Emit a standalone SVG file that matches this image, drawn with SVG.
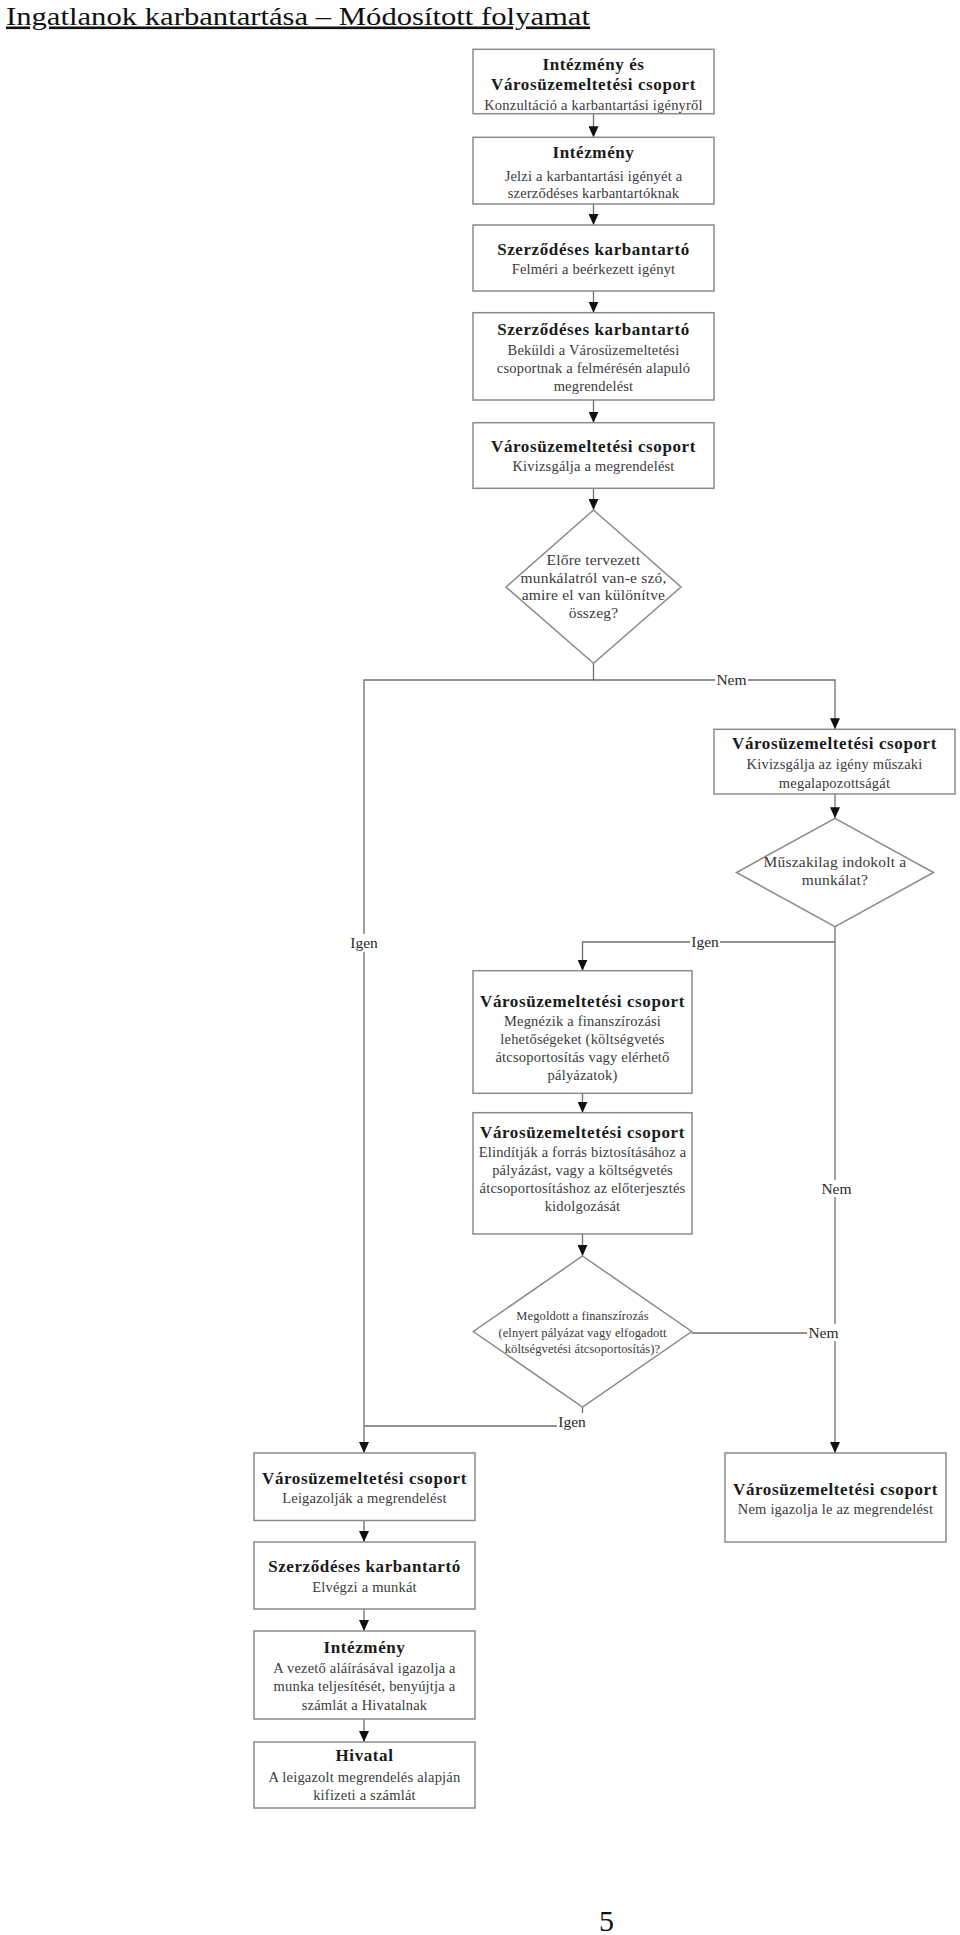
<svg xmlns="http://www.w3.org/2000/svg" width="960" height="1935" viewBox="0 0 960 1935">
<style>
.box{fill:#fff;stroke:#8a8a8a;stroke-width:1.5}
.h{font-family:"Liberation Serif",serif;font-weight:bold;font-size:17px;letter-spacing:0.6px;fill:#1a1a1a;text-anchor:middle}
.s{font-family:"Liberation Serif",serif;font-size:14.5px;letter-spacing:0.2px;fill:#3a3a3a;text-anchor:middle}
.d{font-family:"Liberation Serif",serif;font-size:15.5px;letter-spacing:0.2px;fill:#3a3a3a;text-anchor:middle}
.d3{font-family:"Liberation Serif",serif;font-size:12.5px;letter-spacing:0.1px;fill:#3a3a3a;text-anchor:middle}
.lbl{font-family:"Liberation Serif",serif;font-size:15.5px;fill:#2a2a2a;text-anchor:middle}
.bg{fill:#fff}
.conn{fill:none;stroke:#6e6e6e;stroke-width:1.3}
.arr{marker-end:url(#ah)}
</style>
<defs>
<marker id="ah" markerUnits="userSpaceOnUse" markerWidth="10" markerHeight="11" refX="5" refY="11" orient="0" viewBox="0 0 10 11">
<path d="M0,0 L10,0 L5,11 z" fill="#111"/>
</marker>
</defs>
<rect width="960" height="1935" fill="#fff"/>
<text x="6" y="24.5" font-family="Liberation Serif, serif" font-size="26" fill="#111" text-decoration="underline" textLength="584" lengthAdjust="spacingAndGlyphs">Ingatlanok karbantartása – Módosított folyamat</text>

<g id="connectors">
<path class="conn arr" d="M593.5,114 V137.3"/>
<path class="conn arr" d="M593.5,204 V225"/>
<path class="conn arr" d="M593.5,291 V312.7"/>
<path class="conn arr" d="M593.5,400 V422.7"/>
<path class="conn arr" d="M593.5,488.3 V510"/>
<path class="conn arr" d="M593.5,663.3 V680 H835 V729.3"/>
<path class="conn arr" d="M593.5,680 H364 V1453"/>
<path class="conn arr" d="M835,794 V818.3"/>
<path class="conn arr" d="M835,926.7 V1453"/>
<path class="conn arr" d="M835,942 H582.5 V970.7"/>
<path class="conn arr" d="M582.5,1093.3 V1112.7"/>
<path class="conn arr" d="M582.5,1234 V1256"/>
<path class="conn" d="M691.7,1333 H835"/>
<path class="conn" d="M582.5,1407 V1426 H364"/>
<path class="conn arr" d="M364,1520.5 V1542"/>
<path class="conn arr" d="M364,1609 V1631"/>
<path class="conn arr" d="M364,1719 V1742"/>
<rect class="bg" x="715" y="672" width="33" height="16"/>
<text class="lbl" x="731.5" y="685">Nem</text>
<rect class="bg" x="349" y="934" width="30" height="18"/>
<text class="lbl" x="364" y="948">Igen</text>
<rect class="bg" x="690" y="934" width="30" height="17"/>
<text class="lbl" x="705" y="947">Igen</text>
<rect class="bg" x="820" y="1180" width="33" height="17"/>
<text class="lbl" x="836.5" y="1194">Nem</text>
<rect class="bg" x="807" y="1324" width="33" height="17"/>
<text class="lbl" x="823.5" y="1338">Nem</text>
<rect class="bg" x="557" y="1413" width="30" height="18"/>
<text class="lbl" x="572" y="1427">Igen</text>
</g>

<g id="n1"><rect class="box" x="473" y="49.3" width="241" height="64.4"/>
<text class="h" x="593.5" y="69.5">Intézmény és</text>
<text class="h" x="593.5" y="90">Városüzemeltetési csoport</text>
<text class="s" x="593.5" y="110">Konzultáció a karbantartási igényről</text></g>

<g id="n2"><rect class="box" x="473" y="137.3" width="241" height="66.7"/>
<text class="h" x="593.5" y="158.3">Intézmény</text>
<text class="s" x="593.5" y="180.5">Jelzi a karbantartási igényét a</text>
<text class="s" x="593.5" y="197.5">szerződéses karbantartóknak</text></g>

<g id="n3"><rect class="box" x="473" y="225" width="241" height="66"/>
<text class="h" x="593.5" y="255">Szerződéses karbantartó</text>
<text class="s" x="593.5" y="274">Felméri a beérkezett igényt</text></g>

<g id="n4"><rect class="box" x="473" y="312.7" width="241" height="87.3"/>
<text class="h" x="593.5" y="334.5">Szerződéses karbantartó</text>
<text class="s" x="593.5" y="355">Beküldi a Városüzemeltetési</text>
<text class="s" x="593.5" y="373">csoportnak a felmérésén alapuló</text>
<text class="s" x="593.5" y="391">megrendelést</text></g>

<g id="n5"><rect class="box" x="473" y="422.7" width="241" height="65.6"/>
<text class="h" x="593.5" y="451.7">Városüzemeltetési csoport</text>
<text class="s" x="593.5" y="470.7">Kivizsgálja a megrendelést</text></g>

<g id="n6"><polygon class="box" points="593.5,510 681,587 593.5,663.3 506,587"/>
<text class="d" x="593.5" y="565">Előre tervezett</text>
<text class="d" x="593.5" y="582.5">munkálatról van-e szó,</text>
<text class="d" x="593.5" y="600">amire el van különítve</text>
<text class="d" x="593.5" y="617.5">összeg?</text></g>

<g id="n7"><rect class="box" x="714" y="729.3" width="241" height="64.7"/>
<text class="h" x="834.5" y="749.3">Városüzemeltetési csoport</text>
<text class="s" x="834.5" y="769.3">Kivizsgálja az igény műszaki</text>
<text class="s" x="834.5" y="787.5">megalapozottságát</text></g>

<g id="n8"><polygon class="box" points="835,818.3 933.5,872.5 835,926.7 736.5,872.5"/>
<text class="d" x="835" y="867">Műszakilag indokolt a</text>
<text class="d" x="835" y="885">munkálat?</text></g>

<g id="n9"><rect class="box" x="473" y="970.7" width="219" height="122.6"/>
<text class="h" x="582.5" y="1007">Városüzemeltetési csoport</text>
<text class="s" x="582.5" y="1025.5">Megnézik a finanszírozási</text>
<text class="s" x="582.5" y="1043.5">lehetőségeket (költségvetés</text>
<text class="s" x="582.5" y="1061.5">átcsoportosítás vagy elérhető</text>
<text class="s" x="582.5" y="1079.5">pályázatok)</text></g>

<g id="n10"><rect class="box" x="473" y="1112.7" width="219" height="121.3"/>
<text class="h" x="582.5" y="1138">Városüzemeltetési csoport</text>
<text class="s" x="582.5" y="1157">Elindítják a forrás biztosításához a</text>
<text class="s" x="582.5" y="1175">pályázást, vagy a költségvetés</text>
<text class="s" x="582.5" y="1193">átcsoportosításhoz az előterjesztés</text>
<text class="s" x="582.5" y="1211">kidolgozását</text></g>

<g id="n11"><polygon class="box" points="582.5,1256 691.7,1331.5 582.5,1407 473.3,1331.5"/>
<text class="d3" x="582.5" y="1320">Megoldott a finanszírozás</text>
<text class="d3" x="582.5" y="1336.5">(elnyert pályázat vagy elfogadott</text>
<text class="d3" x="582.5" y="1353">költségvetési átcsoportosítás)?</text></g>

<g id="n12"><rect class="box" x="254" y="1453" width="221" height="67.5"/>
<text class="h" x="364.5" y="1484">Városüzemeltetési csoport</text>
<text class="s" x="364.5" y="1503">Leigazolják a megrendelést</text></g>

<g id="n13"><rect class="box" x="725" y="1453" width="221" height="89"/>
<text class="h" x="835.5" y="1495">Városüzemeltetési csoport</text>
<text class="s" x="835.5" y="1514">Nem igazolja le az megrendelést</text></g>

<g id="n14"><rect class="box" x="254" y="1542" width="221" height="67"/>
<text class="h" x="364.5" y="1572">Szerződéses karbantartó</text>
<text class="s" x="364.5" y="1592">Elvégzi a munkát</text></g>

<g id="n15"><rect class="box" x="254" y="1631" width="221" height="88"/>
<text class="h" x="364.5" y="1652.5">Intézmény</text>
<text class="s" x="364.5" y="1673">A vezető aláírásával igazolja a</text>
<text class="s" x="364.5" y="1691">munka teljesítését, benyújtja a</text>
<text class="s" x="364.5" y="1709.5">számlát a Hivatalnak</text></g>

<g id="n16"><rect class="box" x="254" y="1742" width="221" height="66"/>
<text class="h" x="364.5" y="1761">Hivatal</text>
<text class="s" x="364.5" y="1782">A leigazolt megrendelés alapján</text>
<text class="s" x="364.5" y="1800">kifizeti a számlát</text></g>

<text x="606.5" y="1931" font-family="Liberation Serif, serif" font-size="30" fill="#111" text-anchor="middle">5</text>
</svg>
